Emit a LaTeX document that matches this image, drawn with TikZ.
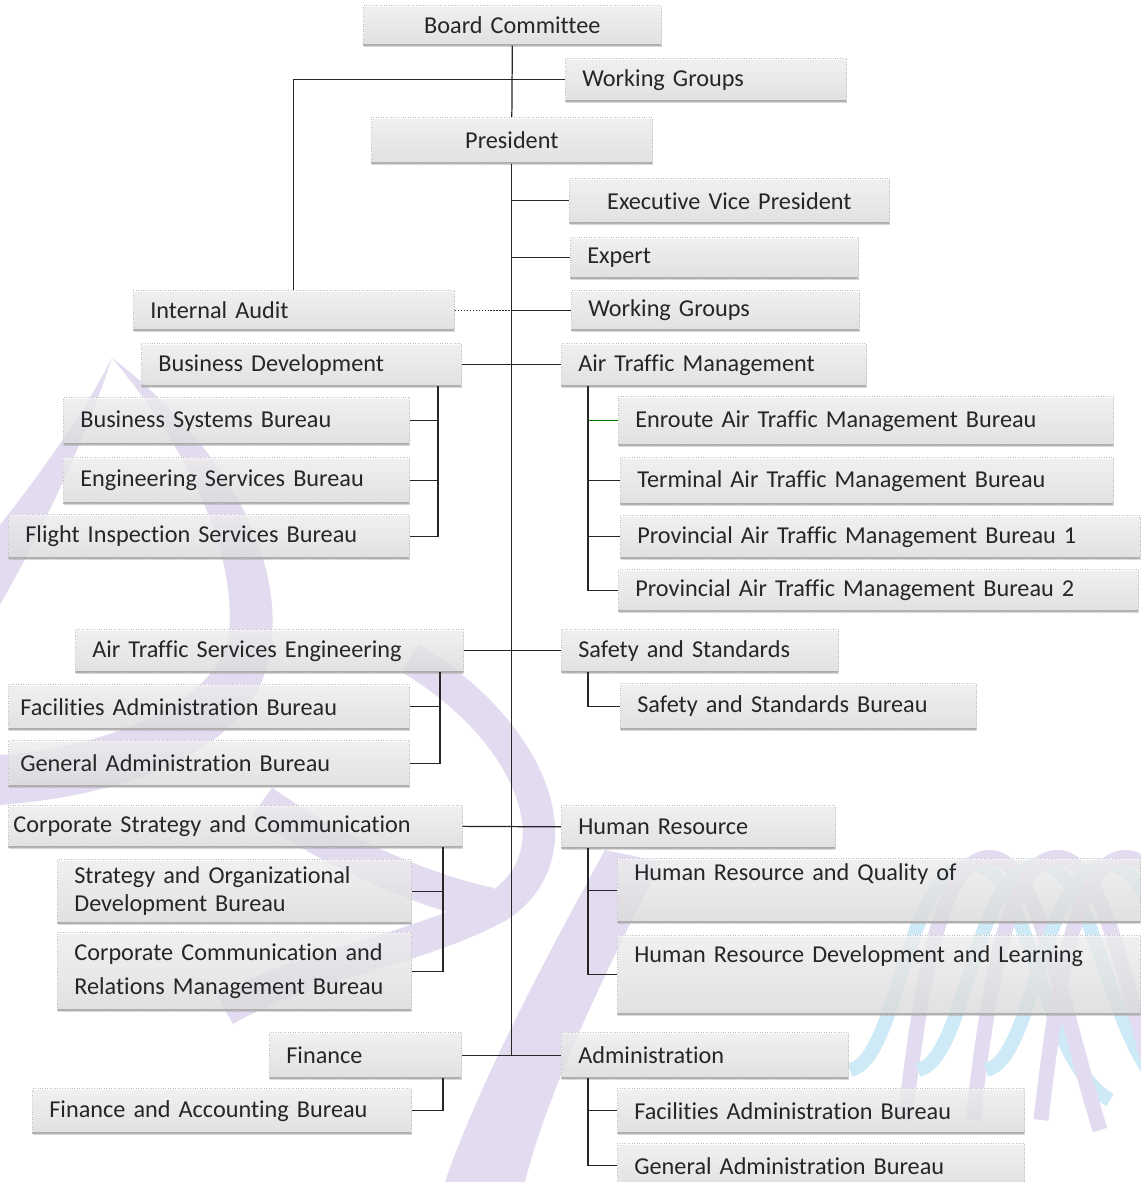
\documentclass[tikz,border=0pt]{standalone}
\usepackage{fontspec}
\setmainfont{Carlito}[Ligatures={NoCommon}]
\usepackage{xcolor}
\usetikzlibrary{
    shadows,
    positioning
}
\definecolor{wmpurple}{RGB}{227,219,240}
\definecolor{wmblue}{RGB}{206,234,246}
\tikzset{
    unit/.style={draw=gray!50, densely dotted, top color=gray!3, bottom color=gray!20,
        fill opacity=0.7, text opacity=1, text=black!85, anchor=north west, align=left,
        inner xsep=0.34cm, inner ysep=0pt, font=\fontsize{13.8}{16}\selectfont,
        drop shadow={shadow xshift=0.6pt, shadow yshift=-0.8pt, opacity=0.3},
        path picture={\draw[solid, gray!65, line width=1.2pt]
            (path picture bounding box.south west) -- (path picture bounding box.south east);}},
    link/.style={line width=0.7pt, black!85}
}

\begin{document}
\begin{tikzpicture}[x=0.02cm, y=-0.02cm]
    \fill[white] (0,0) rectangle (1140,1182);
    \useasboundingbox (0,0) rectangle (1140,1182);

    % logo in the background
    \fill[wmpurple] (112,358) .. controls (220,440) and (292,560) .. (268,662)
        .. controls (248,750) and (130,795) .. (0,805) -- (0,755)
        .. controls (110,748) and (215,700) .. (228,640)
        .. controls (240,560) and (190,450) .. cycle;
    \fill[wmpurple] (112,358) .. controls (80,420) and (35,480) .. (0,525) -- (0,605)
        .. controls (45,525) and (85,440) .. cycle;
    \draw[wmpurple, line width=0.65cm] (410,658) .. controls (530,730) and (580,850) .. (500,905)
        .. controls (420,950) and (300,965) .. (225,1010);
    \draw[wmpurple, line width=0.7cm] (262,802) .. controls (330,850) and (420,890) .. (490,905);
    \fill[wmpurple] (605,850) -- (662,862) .. controls (600,980) and (545,1100) .. (525,1182)
        -- (445,1182) .. controls (480,1080) and (550,950) .. cycle;
    \foreach \s in {0,68,136} {
        \draw[wmblue, line width=0.28cm] (850+\s,1070) .. controls (900+\s,1060) and (905+\s,860) .. (975+\s,865)
            .. controls (1030+\s,870) and (1040+\s,1060) .. (1110+\s,1100);
        \draw[wmpurple, line width=0.3cm] (905+\s,1120) .. controls (925+\s,940) and (950+\s,850) .. (995+\s,858)
            .. controls (1040+\s,870) and (1060+\s,1000) .. (1100+\s,1130);
    }

    \node[unit, text width=5.28cm, minimum height=0.80cm, align=center] (bc) at (363,5) {Board Committee};
    \node[unit, text width=4.94cm, minimum height=0.86cm] (wg1) at (565,58) {Working Groups};
    \node[unit, text width=4.94cm, minimum height=0.92cm, align=center] (pres) at (371,117) {President};
    \node[unit, text width=5.72cm, minimum height=0.90cm, align=center] (evp) at (569,178) {Executive Vice President};
    \node[unit, text width=5.08cm, minimum height=0.82cm] (expert) at (570,237) {Expert};
    \node[unit, text width=5.08cm, minimum height=0.80cm] (wg2) at (571,290) {Working Groups};
    \node[unit, text width=5.74cm, minimum height=0.80cm] (ia) at (133,290) {Internal Audit};

    \node[unit, text width=5.72cm, minimum height=0.86cm] (bd) at (141,343) {Business Development};
    \node[unit, text width=6.24cm, minimum height=0.94cm] (bsb) at (63,397) {Business Systems Bureau};
    \node[unit, text width=6.24cm, minimum height=0.92cm] (esb) at (63,457) {Engineering Services Bureau};
    \node[unit, text width=7.34cm, minimum height=0.88cm] (fisb) at (8,514) {Flight Inspection Services Bureau};

    \node[unit, text width=5.42cm, minimum height=0.86cm] (atm) at (561,343) {Air Traffic Management};
    \node[unit, text width=9.22cm, minimum height=0.98cm] (eatm) at (618,396) {Enroute Air Traffic Management Bureau};
    \node[unit, text width=9.18cm, minimum height=0.94cm] (tatm) at (620,457) {Terminal Air Traffic Management Bureau};
    \node[unit, text width=9.72cm, minimum height=0.86cm] (patma) at (620,515) {Provincial Air Traffic Management Bureau 1};
    \node[unit, text width=9.72cm, minimum height=0.84cm] (patmb) at (618,569) {Provincial Air Traffic Management Bureau 2};

    \node[unit, text width=7.08cm, minimum height=0.86cm] (atse) at (75,629) {Air Traffic Services Engineering};
    \node[unit, text width=7.54cm, minimum height=0.90cm, inner xsep=0.24cm] (faba) at (8,684) {Facilities Administration Bureau};
    \node[unit, text width=7.54cm, minimum height=0.92cm, inner xsep=0.24cm] (gaba) at (8,740) {General Administration Bureau};

    \node[unit, text width=4.86cm, minimum height=0.86cm] (ss) at (561,629) {Safety and Standards};
    \node[unit, text width=6.44cm, minimum height=0.92cm] (ssb) at (620,683) {Safety and Standards Bureau};

    \node[unit, text width=8.88cm, minimum height=0.84cm, inner xsep=0.1cm] (csc) at (8,805) {Corporate Strategy and Communication};
    \node[unit, text width=6.40cm, minimum height=1.28cm] (sodb) at (57,859) {Strategy and Organizational\\Development Bureau};
    \node[unit, text width=6.40cm, minimum height=1.56cm] (ccrmb) at (57,932) {Corporate Communication and\\[3pt]Relations Management Bureau};

    \node[unit, text width=4.80cm, minimum height=0.86cm] (hr) at (561,805) {Human Resource};
    \node[unit, text width=9.78cm, minimum height=1.28cm] (hrq) at (617,858) {Human Resource and Quality of\\\strut};
    \node[unit, text width=9.78cm, minimum height=1.58cm] (hrd) at (617,935) {Human Resource Development and Learning\\[3pt]\strut};

    \node[unit, text width=3.16cm, minimum height=0.92cm] (fin) at (269,1032) {Finance};
    \node[unit, text width=6.90cm, minimum height=0.90cm] (fab) at (32,1088) {Finance and Accounting Bureau};

    \node[unit, text width=5.06cm, minimum height=0.92cm] (adm) at (561,1032) {Administration};
    \node[unit, text width=7.46cm, minimum height=0.90cm] (fabb) at (617,1088) {Facilities Administration Bureau};
    \node[unit, text width=7.46cm, minimum height=0.90cm] (gabb) at (617,1143) {General Administration Bureau};

    % trunk and the units hanging from it
    \draw[link] (bc.south) -- (pres.north);
    \draw[link] (ia.north) |- (wg1.west);
    \draw[link] (pres.south) -- (pres.south |- adm.west);
    \draw[link] (pres.south |- evp.west) -- (evp.west);
    \draw[link] (pres.south |- expert.west) -- (expert.west);
    \draw[link] (pres.south |- wg2.west) -- (wg2.west);
    \draw[link, densely dotted] (ia.east) -- (ia.east -| pres.south);
    \draw[link] (bd.east) -- (atm.west);
    \draw[link] (atse.east) -- (ss.west);
    \draw[link] (csc.east) -- (hr.west);
    \draw[link] (fin.east) -- (adm.west);

    % bureaus
    \coordinate (bdv) at (438,386);
    \draw[link] (bdv) |- (fisb.east);
    \draw[link] (bdv |- bsb.east) -- (bsb.east);
    \draw[link] (bdv |- esb.east) -- (esb.east);

    \coordinate (atmv) at (588,386);
    \draw[link] (atmv) |- (patmb.west);
    \draw[link, green!45!black] (atmv |- eatm.west) -- (eatm.west);
    \draw[link] (atmv |- tatm.west) -- (tatm.west);
    \draw[link] (atmv |- patma.west) -- (patma.west);

    \coordinate (atsev) at (440,672);
    \draw[link] (atsev) |- (gaba.east);
    \draw[link] (atsev |- faba.east) -- (faba.east);

    \coordinate (ssv) at (588,672);
    \draw[link] (ssv) |- (ssb.west);

    \coordinate (cscv) at (443,847);
    \draw[link] (cscv) |- (ccrmb.east);
    \draw[link] (cscv |- sodb.east) -- (sodb.east);

    \coordinate (hrv) at (588,848);
    \draw[link] (hrv) |- (hrd.west);
    \draw[link] (hrv |- hrq.west) -- (hrq.west);

    \coordinate (finv) at (443,1078);
    \draw[link] (finv) |- (fab.east);

    \coordinate (admv) at (588,1078);
    \draw[link] (admv) |- (gabb.west);
    \draw[link] (admv |- fabb.west) -- (fabb.west);
\end{tikzpicture}
\end{document}
